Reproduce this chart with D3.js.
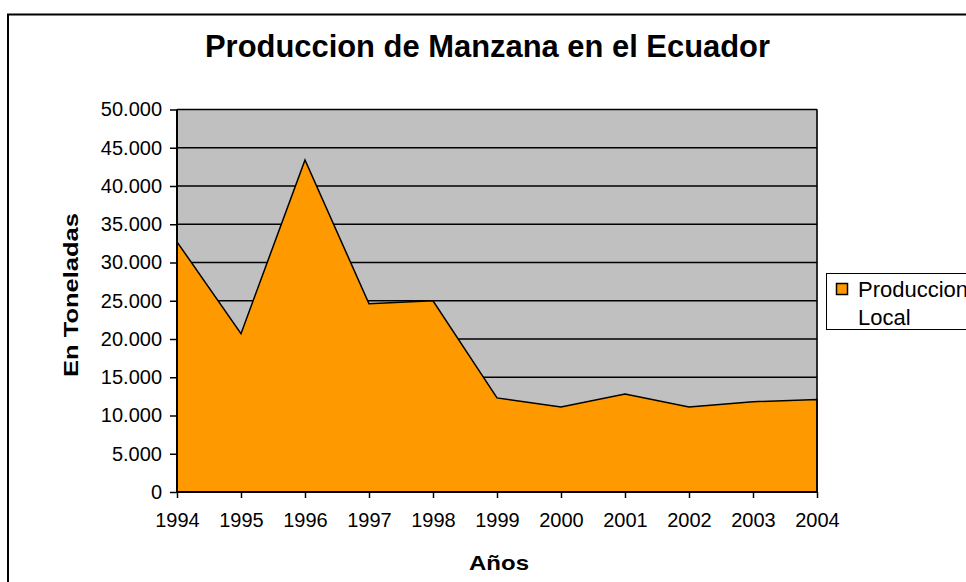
<!DOCTYPE html>
<html>
<head>
<meta charset="utf-8">
<script src="https://cdn.jsdelivr.net/npm/d3@7"></script>
<style>
  body { margin: 0; background: #fff; }
  svg { font-family: "Liberation Sans", Arial, sans-serif; }
</style>
</head>
<body>
<div id="container"></div>
<script>
const years = [1994, 1995, 1996, 1997, 1998, 1999, 2000, 2001, 2002, 2003, 2004];
const produccion = [32700, 20700, 43400, 24600, 25000, 12300, 11100, 12800, 11100, 11800, 12100];
const yTicks = [0, 5000, 10000, 15000, 20000, 25000, 30000, 35000, 40000, 45000, 50000];

const W = 966, H = 582;
const plot = { left: 177, right: 817, top: 109.5, bottom: 492 };

const svg = d3.select('#container')
    .append('svg')
    .attr('width', W)
    .attr('height', H);

// outer chart border (runs off the right/bottom edge)
svg.append('rect')
    .attr('x', 8)
    .attr('y', 14.5)
    .attr('width', 980)
    .attr('height', 600)
    .style('fill', 'none')
    .style('stroke', '#000')
    .style('stroke-width', 2);

var xScale = d3.scaleLinear()
    .domain([years[0], years[years.length - 1]])
    .range([plot.left, plot.right]);

var yScale = d3.scaleLinear()
    .domain([0, 50000])
    .range([plot.bottom, plot.top]);

// gray plot area
svg.append('rect')
    .attr('x', plot.left)
    .attr('y', plot.top)
    .attr('width', plot.right - plot.left)
    .attr('height', plot.bottom - plot.top)
    .style('fill', '#c0c0c0')
    .style('stroke', '#808080')
    .style('stroke-width', 1);

// gridlines
svg.append('g')
    .selectAll('line')
    .data(yTicks.filter(d => d > 0))
    .enter()
    .append('line')
    .attr('x1', plot.left)
    .attr('x2', plot.right)
    .attr('y1', d => yScale(d))
    .attr('y2', d => yScale(d))
    .style('stroke', '#000')
    .style('stroke-width', 1.5);

var data = years.map((y, i) => ({ year: y, value: produccion[i] }));

var area = d3.area()
    .x(d => xScale(d.year))
    .y0(yScale(0))
    .y1(d => yScale(d.value));

svg.append('path')
    .datum(data)
    .attr('d', area)
    .style('fill', '#ff9900')
    .style('stroke', '#000')
    .style('stroke-width', 1.5);

var fmt = d3.formatLocale({ decimal: ',', thousands: '.', grouping: [3], currency: ['', ''] }).format(',d');

var yAxis = d3.axisLeft(yScale).tickValues(yTicks).tickSize(7).tickFormat(fmt);
var xAxis = d3.axisBottom(xScale).tickValues(years).tickSize(6).tickFormat(d3.format('d'));

svg.append('g')
    .attr('class', 'y axis')
    .attr('transform', 'translate(' + plot.left + ',0)')
    .call(yAxis)
    .call(g => g.select('.domain').style('stroke', '#000').style('stroke-width', 2).attr('d', 'M0,' + plot.top + 'V' + plot.bottom))
    .call(g => g.selectAll('.tick line').style('stroke-width', 1.5))
    .call(g => g.selectAll('text').style('font-size', '20px').style('fill', '#000').attr('x', -15));

svg.append('g')
    .attr('class', 'x axis')
    .attr('transform', 'translate(0,' + plot.bottom + ')')
    .call(xAxis)
    .call(g => g.select('.domain').style('stroke', '#000').style('stroke-width', 2).attr('d', 'M' + plot.left + ',0H' + plot.right))
    .call(g => g.selectAll('.tick line').style('stroke-width', 1.5))
    .call(g => g.selectAll('text').style('font-size', '20px').style('fill', '#000').attr('y', 21));

// right edge of plot
svg.append('line')
    .attr('x1', plot.right).attr('x2', plot.right)
    .attr('y1', plot.top).attr('y2', plot.bottom)
    .style('stroke', '#000').style('stroke-width', 1.5);

svg.append('text')
    .attr('x', 487.5)
    .attr('y', 57)
    .style('text-anchor', 'middle')
    .style('font-size', '31px')
    .style('font-weight', 'bold')
    .attr('textLength', 565)
    .attr('lengthAdjust', 'spacingAndGlyphs')
    .text('Produccion de Manzana en el Ecuador');

svg.append('text')
    .attr('transform', 'translate(78,295) rotate(-90)')
    .style('text-anchor', 'middle')
    .style('font-size', '21px')
    .style('font-weight', 'bold')
    .attr('textLength', 164)
    .attr('lengthAdjust', 'spacingAndGlyphs')
    .text('En Toneladas');

svg.append('text')
    .attr('x', 499)
    .attr('y', 570)
    .style('text-anchor', 'middle')
    .style('font-size', '21px')
    .style('font-weight', 'bold')
    .attr('textLength', 60)
    .attr('lengthAdjust', 'spacingAndGlyphs')
    .text('Años');

// legend
var legend = svg.append('g').attr('id', 'legend');
legend.append('rect')
    .attr('x', 826.5)
    .attr('y', 273.5)
    .attr('width', 160)
    .attr('height', 56)
    .style('fill', '#fff')
    .style('stroke', '#000')
    .style('stroke-width', 1);
legend.append('rect')
    .attr('x', 836.5)
    .attr('y', 283.5)
    .attr('width', 11)
    .attr('height', 11)
    .style('fill', '#ff9900')
    .style('stroke', '#000')
    .style('stroke-width', 1.5);
legend.append('text')
    .attr('x', 858)
    .attr('y', 297)
    .style('font-size', '22px')
    .text('Produccion');
legend.append('text')
    .attr('x', 858)
    .attr('y', 325)
    .style('font-size', '22px')
    .text('Local');
</script>
</body>
</html>
